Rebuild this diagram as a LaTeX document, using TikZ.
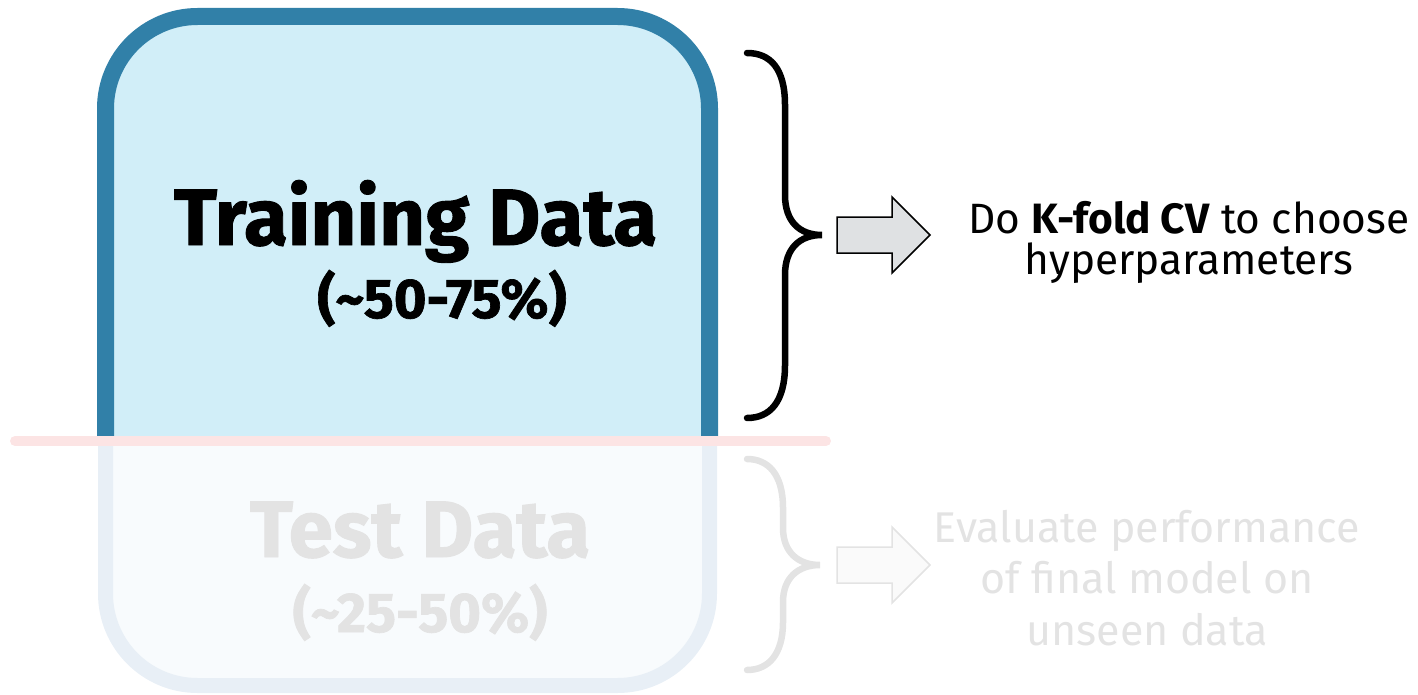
\documentclass[tikz,border=0pt]{standalone}
\usepackage{fontspec}
\setmainfont{Fira Sans}
\newfontfamily\heavyfont{Fira Sans}[BoldFeatures={FakeBold=1.2}]
\usetikzlibrary{positioning}

\definecolor{trainborder}{HTML}{3180A8}
\definecolor{trainfill}{HTML}{D1EEF8}
\definecolor{testborder}{HTML}{E8EFF6}
\definecolor{testfill}{HTML}{F8FBFD}
\definecolor{splitpink}{HTML}{FCE4E4}
\definecolor{fadegray}{HTML}{E3E3E3}
\definecolor{arrowgray}{HTML}{DFE1E3}

\begin{document}
\begin{tikzpicture}[x=1pt,y=-1pt,
    bigtext/.style={font=\heavyfont\fontsize{80}{80}\selectfont\bfseries},
    pcttext/.style={font=\heavyfont\fontsize{56}{56}\selectfont\bfseries},
    sidetext/.style={align=center,font=\fontsize{42.4}{41}\selectfont}]
    \useasboundingbox (0,0) rectangle (1418,695);
    % Draw test box (faded)
    \filldraw[testborder, fill=testfill, line width=15pt, rounded corners=92pt]
        (105.5,446) -- (105.5,685.5) -- (709.5,685.5) -- (709.5,446);
    % Draw training box
    \filldraw[trainborder, fill=trainfill, line width=17pt, rounded corners=92pt]
        (105.5,436) -- (105.5,16.5) -- (709.5,16.5) -- (709.5,436);
    % Draw split line
    \draw[splitpink, line width=10pt, line cap=round] (15,441) -- (826,441);
    % Draw box labels
    \node[bigtext, anchor=base] (train) at (415.5,245) {Training Data};
    \node[pcttext, anchor=base] (trainpct) at (442,318) {(\textasciitilde50-75\%)};
    \node[bigtext, fadegray, anchor=base] (test) at (420,557) {Test Data};
    \node[pcttext, fadegray, anchor=base] (testpct) at (420,632) {(\textasciitilde25-50\%)};
    % Draw braces
    \draw[line width=6.5pt, line cap=round]
        (747,53) .. controls (770,53) and (785,68) .. (785,105) -- (785,195)
        .. controls (785,222) and (800,235) .. (822,235)
        .. controls (800,235) and (785,248) .. (785,275) -- (785,365)
        .. controls (785,402) and (770,418) .. (747,418);
    \draw[fadegray, line width=6.5pt, line cap=round]
        (747,459) .. controls (768,459) and (783,474) .. (783,508) -- (783,528)
        .. controls (783,552) and (798,565) .. (820,565)
        .. controls (798,565) and (783,578) .. (783,602) -- (783,622)
        .. controls (783,655) and (768,670) .. (747,670);
    % Draw block arrows
    \filldraw[black, fill=arrowgray, line width=1.5pt, line join=miter]
        (837,217) -- (892,217) -- (892,197) -- (930,235) -- (892,273)
        -- (892,253) -- (837,253) -- cycle;
    \filldraw[fadegray, fill=white!98!black, line width=1.5pt, line join=miter]
        (837,547) -- (892,547) -- (892,527) -- (930,565) -- (892,603)
        -- (892,583) -- (837,583) -- cycle;
    % Draw side texts
    \node[sidetext] (cvtext) at (1189,242)
        {Do \textbf{K-fold CV} to choose\\hyperparameters};
    \node[sidetext, fadegray, font=\fontsize{43}{51.5}\selectfont] (evaltext) at (1147,578)
        {Evaluate performance\\of final model on\\unseen data};
\end{tikzpicture}
\end{document}
